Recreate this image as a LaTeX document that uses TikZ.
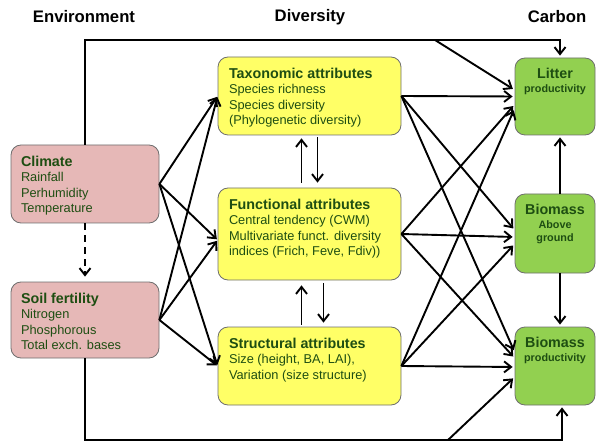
\documentclass[tikz,border=0pt]{standalone}
\usepackage{fontspec}
\setmainfont{Liberation Sans}
\usetikzlibrary{arrows.meta}

\definecolor{envpink}{RGB}{230,184,183}
\definecolor{divyellow}{RGB}{255,255,102}
\definecolor{carbgreen}{RGB}{146,208,80}
\definecolor{boxline}{RGB}{110,110,110}
\definecolor{txtgreen}{RGB}{30,78,18}

\newcommand{\boxtxt}[3]{\parbox[c][#2][t]{#1}{#3}}
\newcommand{\hd}[1]{{\fontsize{14.3}{15.5}\selectfont\bfseries #1}}

\begin{document}
\begin{tikzpicture}[x=1pt, y=1pt,
  box/.style={draw=boxline, line width=0.8pt, rounded corners=10pt, inner xsep=11pt, inner ysep=11pt, text=txtgreen, font=\fontsize{12.8}{15.5}\selectfont},
  envbox/.style={box, fill=envpink, inner xsep=10pt},
  divbox/.style={box, fill=divyellow},
  carbbox/.style={box, fill=carbgreen, inner xsep=4pt, inner ysep=10pt, font=\fontsize{10.8}{13}\selectfont\bfseries},
  arr/.style={line width=1.9pt, -{Straight Barb[length=7pt,width=11pt]}, shorten >=2pt},
  title/.style={font=\fontsize{16.7}{18}\selectfont\bfseries}]

\useasboundingbox (0,0) rectangle (596,-443);

\node[title] (envt) at (84,-17) {Environment};
\node[title] (divt) at (310,-17) {Diversity};
\node[title] (cart) at (557,-17) {Carbon};

\node[envbox] (clim) at (85,-184) {\boxtxt{128pt}{56pt}{\raggedright\hd{Climate}\\ Rainfall\\ Perhumidity\\ Temperature}};
\node[envbox] (soil) at (85,-320) {\boxtxt{128pt}{54pt}{\raggedright\hd{Soil fertility}\\ Nitrogen\\ Phosphorous\\ Total exch. bases}};

\node[divbox] (tax) at (309.5,-96) {\boxtxt{161pt}{56pt}{\raggedright\hd{Taxonomic attributes}\\ Species richness\\ Species diversity\\ (Phylogenetic diversity)}};
\node[divbox] (func) at (309.5,-234) {\boxtxt{161pt}{70pt}{\raggedright\hd{Functional attributes}\\ Central tendency (CWM)\\ Multivariate funct. diversity\\ indices (Frich, Feve, Fdiv))}};
\node[divbox] (struct) at (309.5,-366) {\boxtxt{161pt}{56pt}{\raggedright\hd{Structural attributes}\\ Size (height, BA, LAI),\\ Variation (size structure)}};

\node[carbbox] (lit) at (555,-96.5) {\boxtxt{72pt}{57pt}{\centering\hd{Litter}\\[1pt] productivity}};
\node[carbbox] (bag) at (555,-233.5) {\boxtxt{72pt}{59pt}{\centering\hd{Biomass}\\[1.5pt] Above\\ ground}};
\node[carbbox] (prod) at (555,-366) {\boxtxt{72pt}{58pt}{\centering\hd{Biomass}\\[1pt] productivity}};

\coordinate (tr) at (560,-40);
\coordinate (td) at (435,-40);
\coordinate (br) at (562,-440);
\coordinate (bd) at (448,-440);

\draw[arr] (clim.north) |- (tr) -- (tr |- lit.north);
\draw[arr] (td) -- ([yshift=6.5pt]lit.west);
\draw[arr] (soil.south) |- (br) -- (br |- prod.south);
\draw[arr] (bd) -- ([yshift=-11pt]prod.west);
\draw[arr, dash pattern=on 7pt off 5pt, shorten >=5pt] (clim.south) -- (soil.north);

\draw[arr, shorten >=1pt] (clim.east) -- (tax.west);
\draw[arr, shorten >=1pt] (clim.east) -- ([yshift=-6pt]func.west);
\draw[arr, shorten >=1pt] (clim.east) -- (struct.west);
\draw[arr, shorten >=1pt] (soil.east) -- (tax.west);
\draw[arr, shorten >=1pt] (soil.east) -- ([yshift=-6pt]func.west);
\draw[arr, shorten >=1pt] (soil.east) -- (struct.west);

\draw[arr, shorten <=5pt, shorten >=3pt] ([xshift=-8pt]func.north) -- ([xshift=-8pt]tax.south);
\draw[arr, shorten <=2pt, shorten >=5pt] ([xshift=8pt]tax.south) -- ([xshift=8pt]func.north);
\draw[arr, shorten <=2pt, shorten >=5pt] ([xshift=-8pt]struct.north) -- ([xshift=-8pt]func.south);
\draw[arr, shorten <=3pt, shorten >=4pt] ([xshift=14pt]func.south) -- ([xshift=14pt]struct.north);

\draw[arr] (tax.east) -- (lit.west);
\draw[arr] (tax.east) -- ([yshift=3.5pt]bag.west);
\draw[arr] (tax.east) -- ([yshift=14pt]prod.west);
\draw[arr] (func.east) -- ([yshift=-8pt]lit.west);
\draw[arr] (func.east) -- ([yshift=-3.5pt]bag.west);
\draw[arr] (func.east) -- ([yshift=8pt]prod.west);
\draw[arr] (struct.east) -- ([yshift=-12pt]lit.west);
\draw[arr] (struct.east) -- ([yshift=-10.5pt]bag.west);
\draw[arr] (struct.east) -- ([yshift=-1pt]prod.west);

\draw[arr] ([xshift=5pt]bag.north) -- ([xshift=5pt]lit.south);
\draw[arr] ([xshift=5pt]bag.south) -- ([xshift=5pt]prod.north);

\end{tikzpicture}
\end{document}
